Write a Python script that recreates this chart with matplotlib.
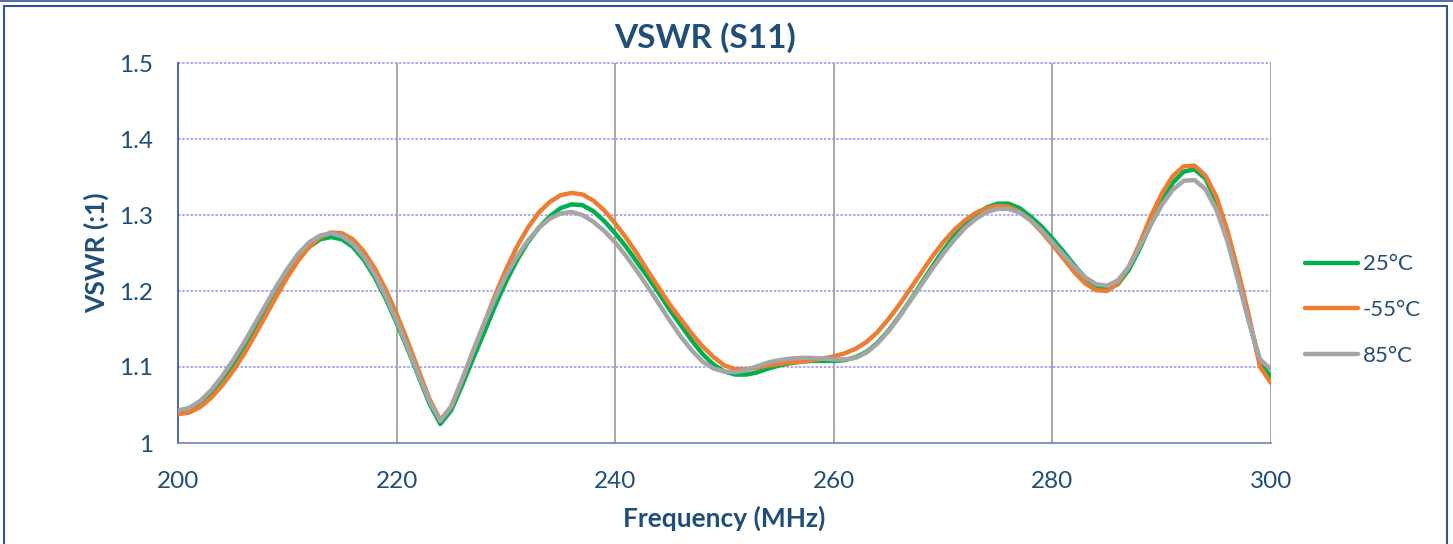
import numpy as np
import matplotlib
matplotlib.use("Agg")
import matplotlib.pyplot as plt
from matplotlib.patches import Rectangle

plt.rcParams['font.family'] = ['Lato', 'DejaVu Sans']

# frequency axis, 1 MHz step
freq = np.arange(200, 301, 1)

# VSWR
vswr_25 = [1.042, 1.045, 1.053, 1.066, 1.083, 1.103, 1.126, 1.150, 1.175, 1.200,
           1.223, 1.243, 1.258, 1.268, 1.271, 1.268, 1.258, 1.241, 1.218, 1.190,
           1.158, 1.124, 1.088, 1.052, 1.025, 1.043, 1.076, 1.111, 1.145, 1.180,
           1.212, 1.240, 1.264, 1.283, 1.298, 1.309, 1.314, 1.313, 1.305, 1.292,
           1.276, 1.258, 1.238, 1.218, 1.197, 1.175, 1.155, 1.135, 1.117, 1.103,
           1.094, 1.090, 1.090, 1.093, 1.098, 1.102, 1.105, 1.107, 1.108, 1.108,
           1.108, 1.109, 1.113, 1.120, 1.132, 1.148, 1.167, 1.188, 1.210, 1.232,
           1.253, 1.272, 1.288, 1.301, 1.310, 1.315, 1.315, 1.309, 1.298, 1.285,
           1.269, 1.252, 1.234, 1.217, 1.205, 1.202, 1.209, 1.228, 1.256, 1.288,
           1.318, 1.342, 1.357, 1.360, 1.348, 1.318, 1.272, 1.215, 1.160, 1.106,
           1.087]

vswr_m55 = [1.038, 1.040, 1.047, 1.059, 1.075, 1.094, 1.116, 1.141, 1.167, 1.193,
            1.218, 1.240, 1.258, 1.271, 1.277, 1.276, 1.268, 1.252, 1.230, 1.202,
            1.170, 1.134, 1.096, 1.058, 1.030, 1.048, 1.083, 1.121, 1.157, 1.194,
            1.228, 1.258, 1.283, 1.303, 1.317, 1.326, 1.329, 1.327, 1.319, 1.306,
            1.289, 1.270, 1.249, 1.226, 1.204, 1.182, 1.163, 1.144, 1.127, 1.113,
            1.102, 1.097, 1.097, 1.099, 1.102, 1.104, 1.106, 1.107, 1.109, 1.111,
            1.114, 1.118, 1.124, 1.133, 1.146, 1.163, 1.182, 1.203, 1.224, 1.245,
            1.264, 1.280, 1.293, 1.303, 1.309, 1.312, 1.311, 1.304, 1.293, 1.278,
            1.261, 1.243, 1.225, 1.210, 1.201, 1.200, 1.210, 1.232, 1.263, 1.298,
            1.328, 1.351, 1.364, 1.365, 1.352, 1.324, 1.280, 1.226, 1.166, 1.100,
            1.079]

vswr_85 = [1.043, 1.046, 1.055, 1.069, 1.087, 1.108, 1.131, 1.156, 1.181, 1.206,
           1.229, 1.249, 1.264, 1.273, 1.276, 1.272, 1.262, 1.245, 1.222, 1.193,
           1.161, 1.126, 1.090, 1.055, 1.029, 1.048, 1.084, 1.121, 1.157, 1.190,
           1.220, 1.245, 1.266, 1.283, 1.295, 1.302, 1.304, 1.300, 1.291, 1.279,
           1.264, 1.246, 1.226, 1.205, 1.183, 1.161, 1.140, 1.122, 1.107, 1.098,
           1.094, 1.093, 1.096, 1.101, 1.106, 1.109, 1.111, 1.112, 1.112, 1.111,
           1.110, 1.110, 1.112, 1.119, 1.131, 1.147, 1.166, 1.187, 1.208, 1.229,
           1.249, 1.267, 1.283, 1.295, 1.304, 1.308, 1.308, 1.303, 1.293, 1.280,
           1.264, 1.248, 1.232, 1.218, 1.209, 1.207, 1.214, 1.232, 1.259, 1.287,
           1.313, 1.333, 1.345, 1.346, 1.334, 1.307, 1.266, 1.213, 1.158, 1.110,
           1.097]

labels = ['25°C', '-55°C', '85°C']
colors = ['#00B050', '#ED7D31', '#A5A5A5']
navy = '#1F4E79'

fig = plt.figure(figsize=(14.53, 5.44), dpi=100)
ax = fig.add_axes([178/1453, 101/544, 1093/1453, 380/544])

for y, lab, c in zip([vswr_25, vswr_m55, vswr_85], labels, colors):
    ax.plot(freq, y, color=c, lw=3.2, label=lab, solid_capstyle='round',
            solid_joinstyle='round', zorder=3)

ax.set_xlim(200, 300)
ax.set_ylim(1.0, 1.5)
ax.set_xticks([200, 220, 240, 260, 280, 300])
ax.set_yticks([1.0, 1.1, 1.2, 1.3, 1.4, 1.5])
ax.set_yticklabels(['1', '1.1', '1.2', '1.3', '1.4', '1.5'])
ax.tick_params(length=0, labelsize=17.5, colors=navy, pad=18)
ax.tick_params(axis='x', pad=20)

# grid: dotted blue horizontals, solid grey verticals
for yv in [1.1, 1.2, 1.3, 1.4, 1.5]:
    ax.axhline(yv, color='#9A9AF5', lw=1.2, ls=(0, (1.5, 1)), zorder=1, clip_on=False)
for xv in [220, 240, 260, 280, 300]:
    ax.axvline(xv, color='#A0A0A0', lw=1.3, zorder=1)

for s in ['top', 'right']:
    ax.spines[s].set_visible(False)
ax.spines['left'].set_color('#2F4F8F')
ax.spines['left'].set_linewidth(1.2)
ax.spines['bottom'].set_color('#6A86B0')
ax.spines['bottom'].set_linewidth(1.2)

ax.set_xlabel('Frequency (MHz)', fontsize=19, fontweight='bold', color=navy, labelpad=10)
ax.set_ylabel('VSWR (:1)', fontsize=19, fontweight='bold', color=navy, labelpad=7)
fig.text(705/1453, 1 - 38/544, 'VSWR (S11)', fontsize=24, fontweight='bold',
         color=navy, ha='center', va='center')

leg = fig.legend(loc='center left', bbox_to_anchor=(1305/1453, 1 - 310/544),
                 frameon=False, fontsize=16, handlelength=2.4, labelspacing=1.15,
                 handletextpad=0.2, borderpad=0, borderaxespad=0)
for t in leg.get_texts():
    t.set_color(navy)

# chart-area frame
fig.patches.append(Rectangle((4/1453, -0.02), 1443/1453, 1 - 6/544 + 0.02,
                             transform=fig.transFigure, fill=False,
                             edgecolor='#2F5597', lw=1.5))
fig.lines.append(plt.Line2D([0, 1], [1 - 0.5/544, 1 - 0.5/544],
                            transform=fig.transFigure, color='#2F5597', lw=1.2))

fig.savefig('out.png', dpi=100)
